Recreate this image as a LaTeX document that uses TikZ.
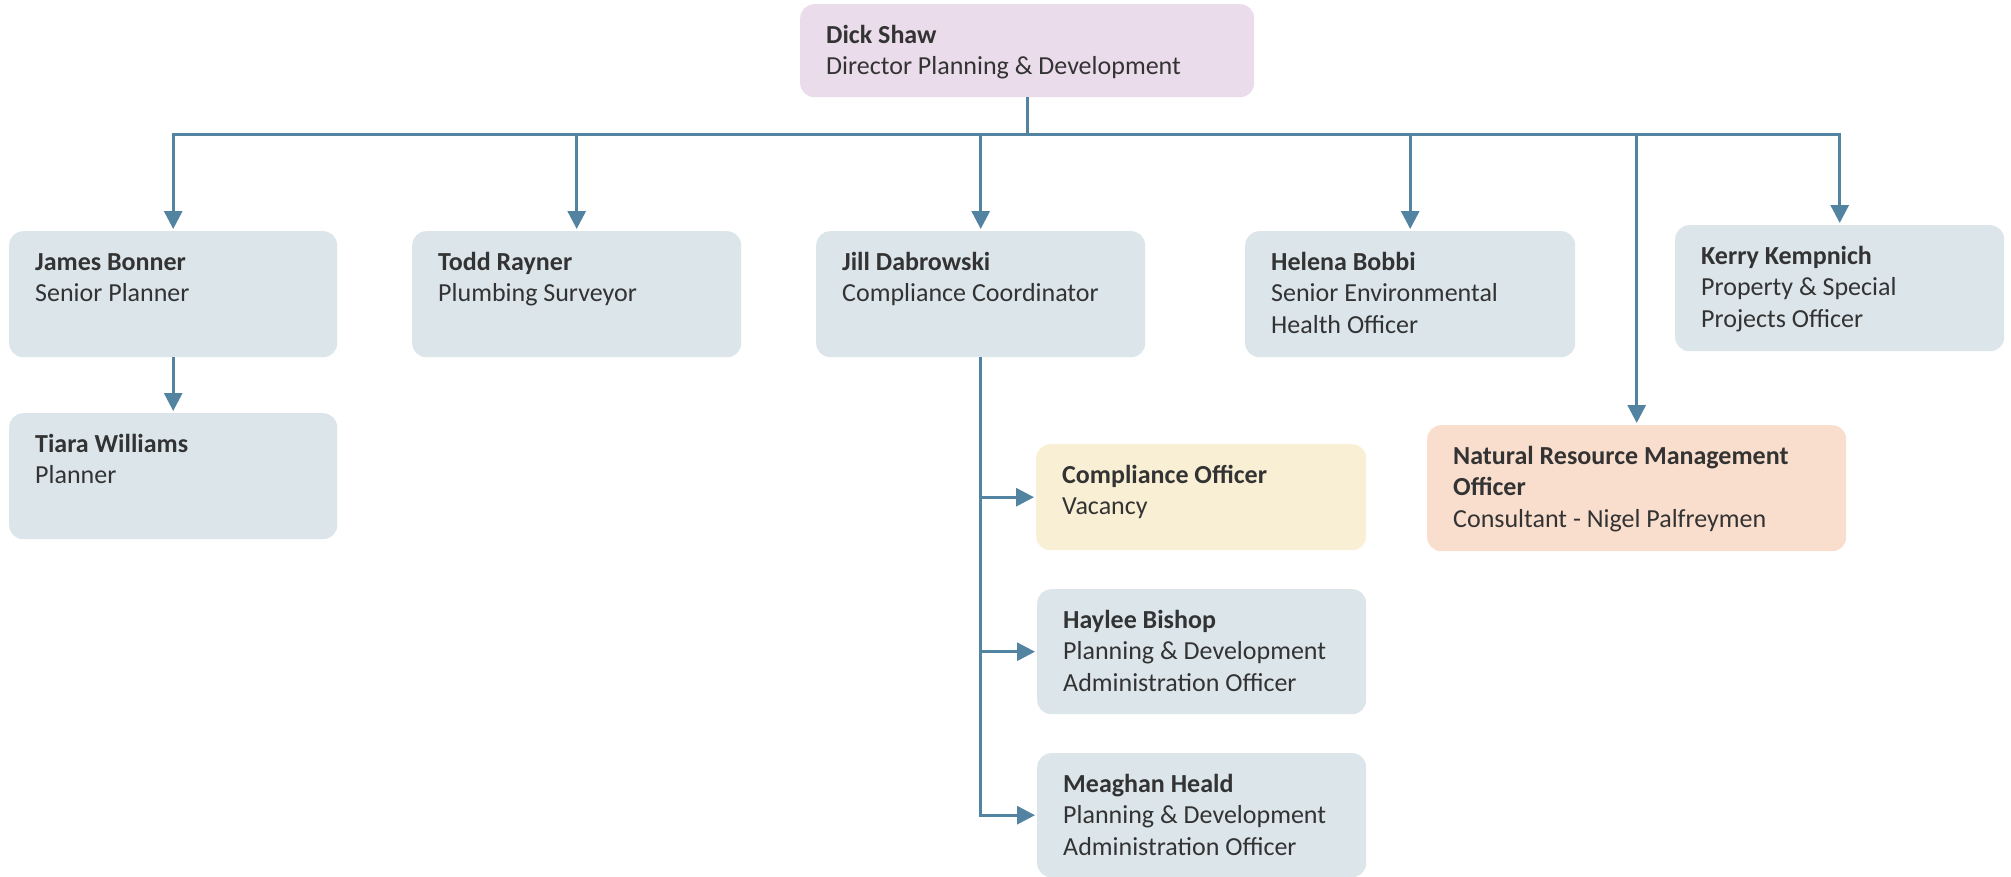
\documentclass[tikz,border=0pt]{standalone}
\usepackage{fontspec}
\setmainfont{Carlito}
\usetikzlibrary{arrows.meta,calc}
\definecolor{boxblue}{HTML}{DBE5EA}
\definecolor{boxlav}{HTML}{EADCEA}
\definecolor{boxyel}{HTML}{F9EFD4}
\definecolor{boxpeach}{HTML}{F9DECE}
\definecolor{linec}{HTML}{5283A0}
\definecolor{txtc}{HTML}{333333}
\tikzset{
  orgbox/.style={rectangle, rounded corners=14pt, draw=none, fill=boxblue, anchor=north west, inner sep=0pt},
  orgtxt/.style={anchor=north west, inner sep=0pt, align=left, text=txtc, font=\fontsize{26}{31.5}\selectfont},
  conn/.style={draw=linec, line width=3pt},
  arr/.style={conn, -{Triangle[length=18pt,width=18pt]}, shorten >=2pt},
}
\newcommand\orgnode[8]{%
  \node[orgbox,#6,minimum width=#4pt,minimum height=#5pt] (#1) at (#2,#3) {};
  \node[orgtxt] (#1t) at ($(#1.north west)+(26,18)$) {\rule{0pt}{21pt}\bfseries #7\\\mdseries #8};
}
\begin{document}
\begin{tikzpicture}[x=1pt,y=-1pt]
\useasboundingbox (0,0) rectangle (2011,876);
\orgnode{dick}{800}{4}{454}{93}{fill=boxlav}{Dick Shaw}{Director Planning \& Development}
\orgnode{james}{9}{231}{328}{126}{}{James Bonner}{Senior Planner}
\orgnode{todd}{412}{231}{329}{126}{}{Todd Rayner}{Plumbing Surveyor}
\orgnode{jill}{816}{231}{329}{126}{}{Jill Dabrowski}{Compliance Coordinator}
\orgnode{helena}{1245}{231}{330}{126}{}{Helena Bobbi}{Senior Environmental\\Health Officer}
\orgnode{kerry}{1675}{225}{329}{126}{}{Kerry Kempnich}{Property \& Special\\Projects Officer}
\orgnode{tiara}{9}{413}{328}{126}{}{Tiara Williams}{Planner}
\orgnode{comp}{1036}{444}{330}{106}{fill=boxyel}{Compliance Officer}{Vacancy}
\orgnode{nrm}{1427}{425}{419}{126}{fill=boxpeach}{Natural Resource Management\\\bfseries Officer}{Consultant - Nigel Palfreymen}
\orgnode{haylee}{1037}{589}{329}{125}{}{Haylee Bishop}{Planning \& Development\\Administration Officer}
\orgnode{meaghan}{1037}{753}{329}{124}{}{Meaghan Heald}{Planning \& Development\\Administration Officer}
\coordinate (busY) at (0,134);
\draw[conn] (dick.south) -- (dick.south |- busY);
\draw[conn, line cap=rect] (james.north |- busY) -- (kerry.north |- busY);
\foreach \n in {james,todd,jill,helena,kerry,nrm}
  \draw[arr] (\n.north |- busY) -- (\n.north);
\draw[arr] (james.south) -- (tiara.north);
\draw[arr] (jill.south) |- (meaghan.west);
\draw[arr] (jill.south |- comp.west) -- (comp.west);
\draw[arr] (jill.south |- haylee.west) -- (haylee.west);
\end{tikzpicture}
\end{document}
